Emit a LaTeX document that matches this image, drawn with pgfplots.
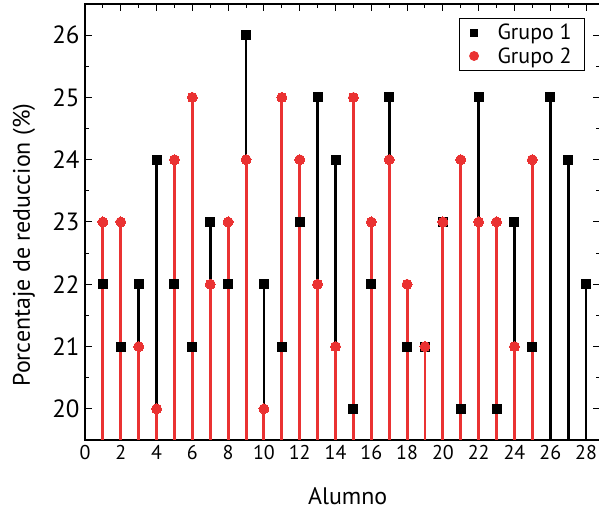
\documentclass[border=0pt]{standalone}
\usepackage{pgfplots}
\pgfplotsset{compat=1.18}
\usepackage{fontspec}
\setmainfont{PT Sans}
\definecolor{myred}{RGB}{234,50,50}
\begin{document}
\begin{tikzpicture}[x=1bp,y=1bp]
\begin{axis}[
  name=ax,
  scale only axis,
  width=515bp, height=436bp,
  xmin=0, xmax=28.78, ymin=19.5, ymax=26.5,
  xtick={0,2,...,28}, ytick={20,21,...,26},
  minor x tick num=1, minor y tick num=1,
  tick align=inside,
  major tick length=7bp, minor tick length=4bp,
  tick style={black, line width=1pt},
  axis line style={line width=1.2pt},
  /pgf/number format/assume math mode=true,
  xticklabel style={font=\fontsize{20}{20}\selectfont, yshift=-2bp},
  yticklabel style={font=\fontsize{25}{25}\selectfont, xshift=-2bp},
  xlabel={Alumno}, ylabel={Porcentaje de reduccion (\%)},
  label style={font=\fontsize{24}{24}\selectfont},
  xlabel style={at={(axis description cs:0.51,0)}, anchor=base, yshift=-65bp},
  ylabel style={at={(axis description cs:-0.107,0.447)}, anchor=base},
  legend style={at={(0.971,0.968)}, anchor=north east, draw=black, line width=0.8pt,
    inner xsep=10bp, inner ysep=3bp, row sep=0bp,
    nodes={inner sep=3bp},
    /tikz/every odd column/.append style={column sep=16bp}},
  legend cell align=left,
  clip=true,
]
\addplot[ycomb, black, line width=2.8pt, mark=square*, mark size=4.5bp, mark options={line width=0pt}, forget plot] coordinates {
(1,22)(2,21)(3,22)(4,24)(5,22)(6,21)(7,23)(8,22)(9,26)(10,22)(11,21)(12,23)(13,25)(14,24)
(15,20)(16,22)(17,25)(18,21)(19,21)(20,23)(21,20)(22,25)(23,20)(24,23)(25,21)(26,25)(27,24)(28,22)};
\addplot[ycomb, myred, line width=3pt, mark=*, mark size=5bp, mark options={line width=0pt}, forget plot] coordinates {
(1,23)(2,23)(3,21)(4,20)(5,24)(6,25)(7,22)(8,23)(9,24)(10,20)(11,25)(12,24)(13,22)(14,21)
(15,25)(16,23)(17,24)(18,22)(19,21)(20,23)(21,24)(22,23)(23,23)(24,21)(25,24)};
\addlegendimage{only marks, black, mark=square*, mark size=3.5bp}
\addlegendentry{\fontsize{22}{22}\selectfont Grupo 1}
\addlegendimage{only marks, myred, mark=*, mark size=4.5bp}
\addlegendentry{\fontsize{22}{22}\selectfont Grupo 2}
\end{axis}
\pgfresetboundingbox
\path ([shift={(-85bp,-73bp)}]ax.south west) rectangle ([shift={(-1bp,4bp)}]ax.north east);
\end{tikzpicture}
\end{document}
